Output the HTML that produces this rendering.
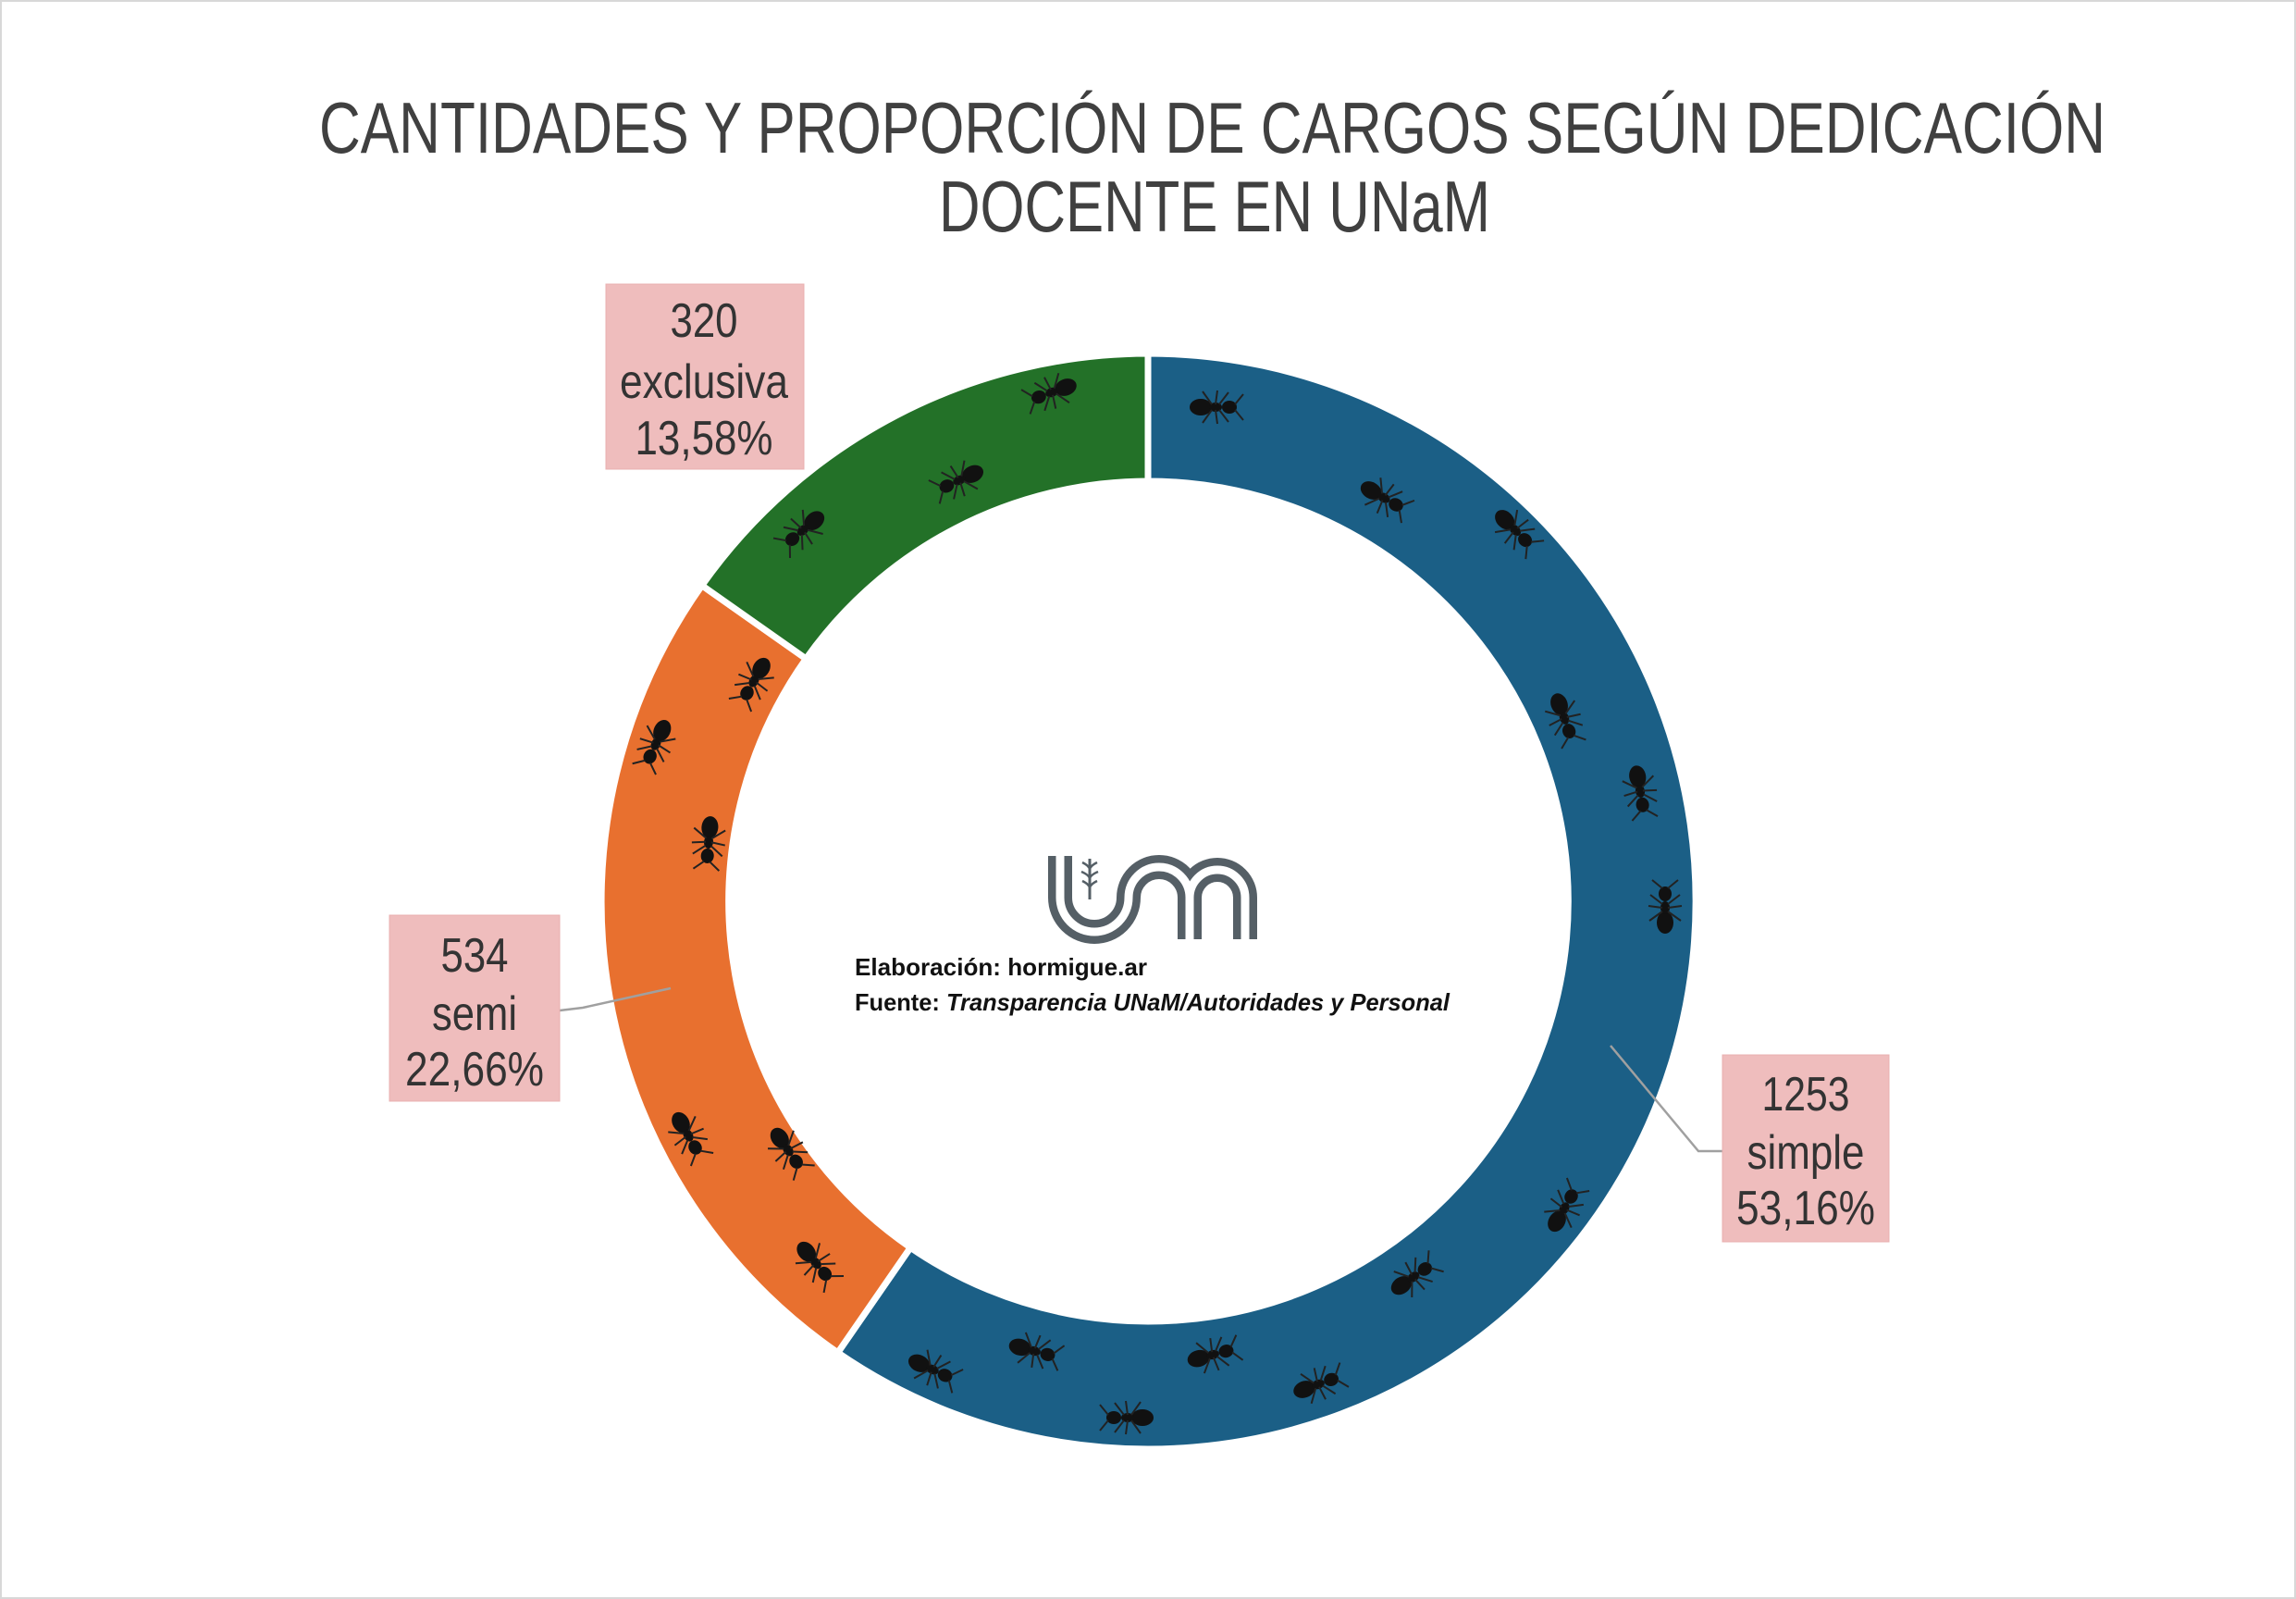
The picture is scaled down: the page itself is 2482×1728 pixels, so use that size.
<!DOCTYPE html>
<html><head><meta charset="utf-8"><style>
html,body{margin:0;padding:0;background:#fff}
svg{display:block}
</style></head><body>
<svg width="2482" height="1728" viewBox="0 0 2482 1728" xmlns="http://www.w3.org/2000/svg">
<rect x="1" y="1" width="2480" height="1726" fill="#fff" stroke="#d8d8d8" stroke-width="2"/>
<g font-family="Liberation Sans, Arial, sans-serif" fill="#404040" font-size="78">
<text x="345" y="165" textLength="1931" lengthAdjust="spacingAndGlyphs">CANTIDADES Y PROPORCIÓN DE CARGOS SEGÚN DEDICACIÓN</text>
<text x="1015" y="250" textLength="596" lengthAdjust="spacingAndGlyphs">DOCENTE EN UNaM</text>
</g>
<g stroke="#fff" stroke-width="7" stroke-linejoin="miter">
<path d="M1241,382 A592,592 0 1 1 905.7,1461.8 L984.2,1348.2 A454,454 0 1 0 1241,520 Z" fill="#1b5f86"/>
<path d="M905.7,1461.8 A592,592 0 0 1 758.8,632.7 L871.3,711.9 A454,454 0 0 0 984.2,1348.2 Z" fill="#e8702f"/>
<path d="M758.8,632.7 A592,592 0 0 1 1241,382 L1241,520 A454,454 0 0 0 871.3,711.9 Z" fill="#237128"/>
</g>
<defs>
<g id="ant"><ellipse cx="-16" cy="0" rx="12" ry="9" fill="#111"/><ellipse cx="0" cy="0" rx="7" ry="5" fill="#111"/><ellipse cx="15" cy="0" rx="8" ry="7" fill="#111"/>
<path d="M-4,-3 L-14,-17 M0,-3 L2,-18 M4,-3 L14,-16 M-4,3 L-14,17 M0,3 L2,18 M4,3 L14,16 M21,-3 L30,-14 M21,3 L30,14" stroke="#222" stroke-width="2" fill="none"/></g>
</defs>
<g>
<use href="#ant" transform="translate(1314,440) rotate(0)"/>
<use href="#ant" transform="translate(1496,538) rotate(30)"/>
<use href="#ant" transform="translate(1638,573) rotate(45)"/>
<use href="#ant" transform="translate(1691,776) rotate(70)"/>
<use href="#ant" transform="translate(1773,855) rotate(80)"/>
<use href="#ant" transform="translate(1800,981) rotate(-90)"/>
<use href="#ant" transform="translate(1691,1306) rotate(-60)"/>
<use href="#ant" transform="translate(1528,1380) rotate(-35)"/>
<use href="#ant" transform="translate(1425,1496) rotate(-20)"/>
<use href="#ant" transform="translate(1311,1464) rotate(-15)"/>
<use href="#ant" transform="translate(1219,1532) rotate(180)"/>
<use href="#ant" transform="translate(1118,1460) rotate(15)"/>
<use href="#ant" transform="translate(1008,1480) rotate(25)"/>
<use href="#ant" transform="translate(882,1365) rotate(50)"/>
<use href="#ant" transform="translate(852,1243) rotate(55)"/>
<use href="#ant" transform="translate(744,1227) rotate(60)"/>
<use href="#ant" transform="translate(766,910) rotate(95)"/>
<use href="#ant" transform="translate(709,804) rotate(115)"/>
<use href="#ant" transform="translate(815,736) rotate(120)"/>
<use href="#ant" transform="translate(868,573) rotate(140)"/>
<use href="#ant" transform="translate(1037,519) rotate(155)"/>
<use href="#ant" transform="translate(1137,424) rotate(160)"/>
</g>
<g stroke="#a0a0a0" stroke-width="2.5" fill="none">
<polyline points="605,1092 630,1089 725,1068"/>
<polyline points="1741,1130 1836,1244 1862,1244"/>
</g>
<g fill="#efbdbd" stroke="#e8b0b0" stroke-width="1">
<rect x="655" y="307" width="214" height="200"/>
<rect x="421" y="989" width="184" height="201"/>
<rect x="1862" y="1140" width="180" height="202"/>
</g>
<g font-family="Liberation Sans, Arial, sans-serif" fill="#333" font-size="52" text-anchor="middle" lengthAdjust="spacingAndGlyphs">
<text x="761" y="364" textLength="73" lengthAdjust="spacingAndGlyphs">320</text><text x="761" y="430" textLength="182" lengthAdjust="spacingAndGlyphs">exclusiva</text><text x="761" y="491" textLength="149" lengthAdjust="spacingAndGlyphs">13,58%</text>
<text x="513" y="1050" textLength="73" lengthAdjust="spacingAndGlyphs">534</text><text x="513" y="1113" textLength="92" lengthAdjust="spacingAndGlyphs">semi</text><text x="513" y="1173" textLength="150" lengthAdjust="spacingAndGlyphs">22,66%</text>
<text x="1952" y="1200" textLength="95" lengthAdjust="spacingAndGlyphs">1253</text><text x="1952" y="1263" textLength="127" lengthAdjust="spacingAndGlyphs">simple</text><text x="1952" y="1323" textLength="150" lengthAdjust="spacingAndGlyphs">53,16%</text>
</g>
<g fill="none" stroke-linecap="butt">
<path d="M1146,925 V970 A37,37 0 0 0 1220,970 A33,33 0 0 1 1286,970 V1015 M1286,970 A30,30 0 0 1 1346,970 V1015" stroke="#555f66" stroke-width="26"/>
<path d="M1146,925 V970 A37,37 0 0 0 1220,970 A33,33 0 0 1 1286,970 V1015 M1286,970 A30,30 0 0 1 1346,970 V1015" stroke="#fff" stroke-width="9"/>
<path d="M1178,928 V972" stroke="#555f66" stroke-width="3"/>
<path d="M1170,932 q8,4 8,8 M1186,932 q-8,4 -8,8 M1169,942 q9,4 9,8 M1187,942 q-9,4 -9,8 M1170,952 q8,4 8,8 M1186,952 q-8,4 -8,8" stroke="#555f66" stroke-width="2.5"/>
</g>
<g font-family="Liberation Sans, DejaVu Sans, sans-serif" fill="#111" font-size="26" font-weight="bold">
<text x="924" y="1054" textLength="316" lengthAdjust="spacingAndGlyphs">Elaboración: hormigue.ar</text>
<text x="924" y="1092" textLength="643" lengthAdjust="spacingAndGlyphs">Fuente: <tspan font-style="italic">Transparencia UNaM/Autoridades y Personal</tspan></text>
</g>
</svg>
</body></html>
